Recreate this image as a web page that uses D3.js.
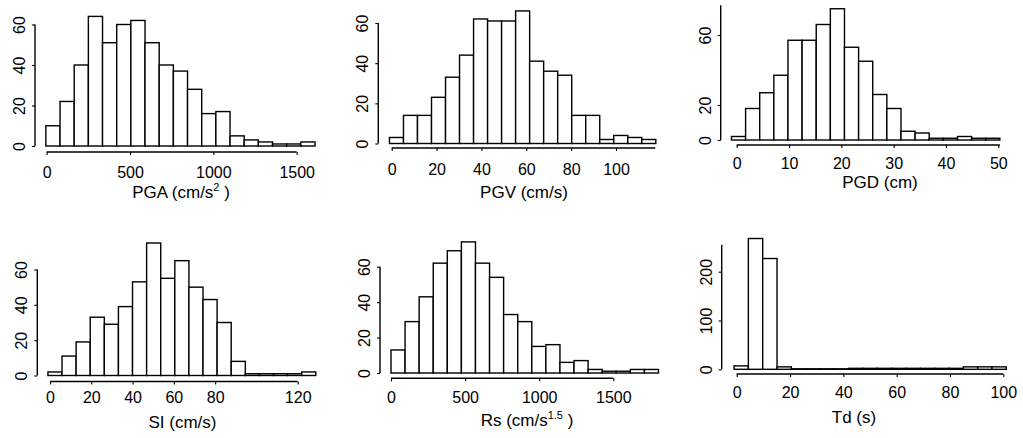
<!DOCTYPE html>
<html>
<head>
<meta charset="utf-8">
<script src="https://cdn.jsdelivr.net/npm/d3@7"></script>
<style>
body { margin: 0; background: #fff; }
text { font-family: "Liberation Sans", Arial, Helvetica, sans-serif; fill: #000; }
</style>
</head>
<body>
<svg id="fig" width="1023" height="438"></svg>
<script>
// histogram counts, 19 bins each
var pgaCounts = [10, 22, 40, 64, 51, 60, 62, 51, 40, 37, 28, 16, 17, 5, 3, 2, 1, 1, 2];
var pgvCounts = [3, 14, 14, 23, 33, 44, 62, 61, 61, 66, 41, 36, 34, 14, 14, 2, 4, 3, 2];
var pgdCounts = [2, 18, 27, 37, 57, 57, 66, 75, 53, 45, 26, 18, 5, 4, 1, 1, 2, 1, 1];
var siCounts  = [2, 11, 19, 33, 29, 39, 53, 75, 55, 65, 50, 43, 30, 8, 1, 1, 1, 1, 2];
var rsCounts  = [13, 29, 43, 62, 69, 74, 62, 54, 33, 29, 15, 16, 6, 7, 2, 1, 1, 2, 2];
var tdCounts  = [7, 268, 227, 5, 1, 1, 1, 1, 2, 2, 2, 2, 2, 2, 2, 2, 5, 5, 5];

// bin start and bin width (data units)
var binStart = [-5, -1, -1, -1, 0, -1];
var binWidth = [85, 6.25, 2.7, 6.83, 95, 5.375];

// tick labels
var xTicks = [[0, 500, 1000, 1500], [0, 20, 40, 60, 80, 100], [0, 10, 20, 30, 40, 50],
              [0, 20, 40, 60, 80, 120], [0, 500, 1000, 1500], [0, 20, 40, 60, 80, 100]];
var yTicks = [[0, 20, 40, 60], [0, 20, 40, 60], [0, 20, 60],
              [0, 20, 40, 60], [0, 20, 40, 60], [0, 100, 200]];
var titles = [["PGA (cm/s", "2", " )"], ["PGV (cm/s)"], ["PGD (cm)"],
              ["SI (cm/s)"], ["Rs (cm/s", "1.5", " )"], ["Td (s)"]];
var xAxisExtent = [[0, 1500], [0, 117.5], [0, 50.3], [0, 120], [0, 1500], [0, 100]];
var yAxisExtent = [[0, 60], [0, 60], [0, 77], [0, 60], [0, 60], [0, 255]];

var counts = [pgaCounts, pgvCounts, pgdCounts, siCounts, rsCounts, tdCounts];

// panel layout (pixels)
var layout = [
  {xd: [0, 1500], xr: [46.7, 296.7], yd: [0, 60], yr: [146, 24.5], xLine: 152, yLine: 35, labY: 172, tx: 181, ty: 192},
  {xd: [0, 100], xr: [391.7, 616], yd: [0, 60], yr: [143.5, 23], xLine: 148, yLine: 378.3, labY: 169.5, tx: 524, ty: 192},
  {xd: [0, 50], xr: [736.7, 998.3], yd: [0, 60], yr: [140, 35], xLine: 145, yLine: 720.7, labY: 163.5, tx: 880, ty: 182},
  {xd: [0, 120], xr: [50, 297.7], yd: [0, 60], yr: [375.5, 269.5], xLine: 381.5, yLine: 37.3, labY: 397, tx: 182.5, ty: 422},
  {xd: [0, 1500], xr: [391, 613.3], yd: [0, 60], yr: [373, 266.7], xLine: 378.3, yLine: 380, labY: 397, tx: 527, ty: 420},
  {xd: [0, 100], xr: [736.7, 1003.3], yd: [0, 200], yr: [369.3, 271.7], xLine: 374, yLine: 721.7, labY: 392, tx: 854, ty: 417}
];

var svg = d3.select("#fig");
var fontSize = 16;

layout.forEach(function(L, p) {
  var x = d3.scaleLinear().domain(L.xd).range(L.xr);
  var y = d3.scaleLinear().domain(L.yd).range(L.yr);
  var g = svg.append("g");

  var bins = counts[p].map(function(c, i) {
    return {x0: binStart[p] + i * binWidth[p], x1: binStart[p] + (i + 1) * binWidth[p], n: c};
  });

  g.selectAll("rect.bar")
    .data(bins)
    .enter()
    .append("rect")
    .attr("class", "bar")
    .attr("x", function(d) { return x(d.x0); })
    .attr("width", function(d) { return x(d.x1) - x(d.x0); })
    .attr("y", function(d) { return y(d.n); })
    .attr("height", function(d) { return y(0) - y(d.n); })
    .style("fill", "#fff")
    .style("stroke", "#000")
    .style("stroke-width", 1.4);

  // x axis
  var xa = g.append("g")
    .attr("transform", "translate(0," + L.xLine + ")")
    .call(d3.axisBottom(x).tickValues(xTicks[p]).tickSize(3).tickFormat(d3.format("d")));
  xa.select(".domain").remove();
  xa.append("line")
    .attr("x1", x(xAxisExtent[p][0])).attr("x2", x(xAxisExtent[p][1]))
    .attr("stroke", "#000").attr("stroke-width", 1.4);
  xa.selectAll(".tick line").attr("stroke-width", 1.1);
  xa.selectAll(".tick text")
    .attr("y", L.labY - L.xLine + 5.8)
    .attr("dy", 0)
    .style("font-family", "Liberation Sans, Arial, sans-serif")
    .style("font-size", fontSize + "px");

  // y axis, labels parallel to the axis
  var ya = g.append("g")
    .attr("transform", "translate(" + L.yLine + ",0)")
    .call(d3.axisLeft(y).tickValues(yTicks[p]).tickSize(3).tickFormat(d3.format("d")));
  ya.select(".domain").remove();
  ya.append("line")
    .attr("y1", y(yAxisExtent[p][0])).attr("y2", y(yAxisExtent[p][1]))
    .attr("stroke", "#000").attr("stroke-width", 1.4);
  ya.selectAll(".tick line").attr("stroke-width", 1.1);
  ya.selectAll(".tick text")
    .attr("transform", "rotate(-90)")
    .attr("x", 0)
    .attr("y", -10.2)
    .attr("dy", 0)
    .attr("text-anchor", "middle")
    .style("font-family", "Liberation Sans, Arial, sans-serif")
    .style("font-size", fontSize + "px");

  // axis title, with superscript where needed
  var t = svg.append("text")
    .attr("x", L.tx)
    .attr("y", L.ty + 6)
    .attr("text-anchor", "middle")
    .style("font-size", "17px");
  var parts = titles[p];
  t.append("tspan").text(parts[0]);
  if (parts.length > 1) {
    t.append("tspan").attr("dy", -7).style("font-size", "11px").text(parts[1]);
    t.append("tspan").attr("dy", 7).text(parts[2]);
  }
});
</script>
</body>
</html>
